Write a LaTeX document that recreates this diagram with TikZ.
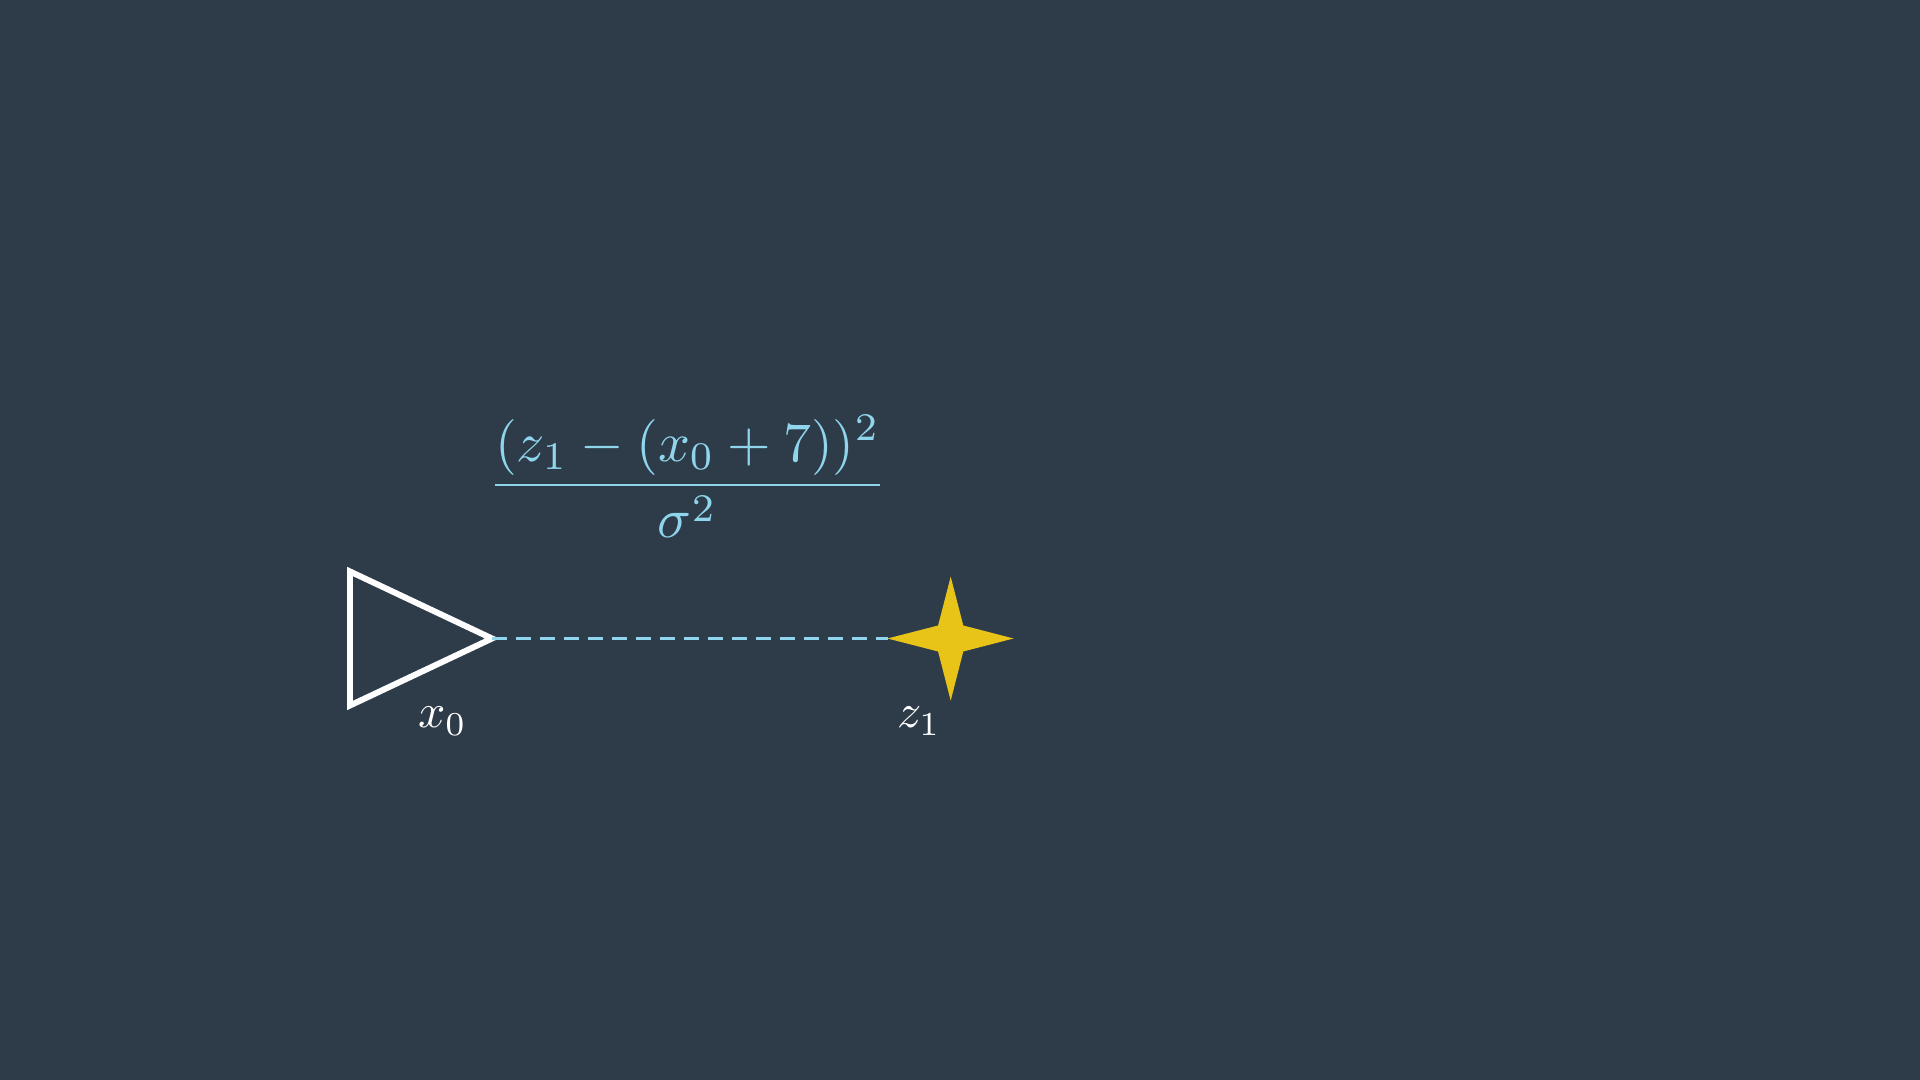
\documentclass[tikz,border=0pt]{standalone}
\definecolor{bg}{HTML}{2E3C4A}
\definecolor{formula}{HTML}{8FD6EC}
\definecolor{staryellow}{HTML}{E9C418}
\tikzset{
  shapeline/.style={draw=white, line width=1.7pt, line join=miter},
  linkline/.style={draw=formula, line width=0.85pt, dash pattern=on 4.27pt off 2.56pt},
  starfill/.style={fill=staryellow, draw=none},
  mathlabel/.style={text=white, inner sep=0pt, anchor=base, scale=1.36, transform shape},
  fraclabel/.style={text=formula, inner sep=0pt, anchor=base, scale=1.59, transform shape},
}
\begin{document}
\begin{tikzpicture}[x=0.01cm, y=-0.01cm]
  \fill[bg] (0,0) rectangle (1920,1080);
  \useasboundingbox (0,0) rectangle (1920,1080);

  % triangle
  \coordinate (tA) at (350,571.5);
  \coordinate (tB) at (350,705.5);
  \coordinate (tip) at (492,638.5);
  \draw[shapeline] (tA) -- (tip) -- (tB) -- cycle;

  % star
  \coordinate (sc) at (950.7,638.5);
  \coordinate (sT) at (950.7,576.7);
  \coordinate (sB) at (950.7,700.7);
  \coordinate (sL) at (887.5,638.5);
  \coordinate (sR) at (1013.5,638.5);
  \fill[starfill] (sT) -- (963.3,625.5) -- (sR) -- (963.3,651.5) -- (sB)
     -- (938.1,651.5) -- (sL) -- (938.1,625.5) -- cycle;

  % dashed link
  \draw[linkline] (tip) -- (sL);

  % formula
  \node[fraclabel] (frac) at (687.5,499) {$\displaystyle\frac{(z_1-(x_0+7))^2}{\sigma^2}$};

  % labels
  \node[mathlabel] (lx) at (442.5,728) {$x_0$};
  \node[mathlabel] (lz) at (919,728) {$z_1$};
\end{tikzpicture}
\end{document}
